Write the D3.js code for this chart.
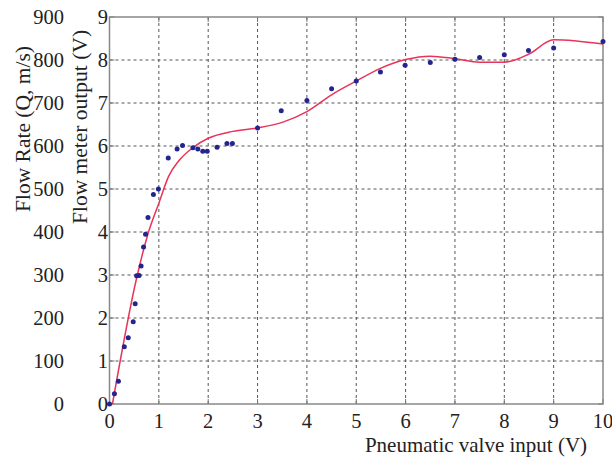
<!DOCTYPE html>
<html>
<head>
    <script src="https://d3js.org/d3.v7.min.js"></script>
    <style>
        body { margin: 0; background: white; }
        text { font-family: "Liberation Serif", "Times New Roman", serif; fill: #222; }
        .grid line { stroke: #555; stroke-dasharray: 3,3; stroke-width: 1; }
    </style>
</head>
<body>
<script>
    // measured points: pneumatic valve input (V) vs flow meter output (V)
    const inputV = [0, 0.1, 0.18, 0.3, 0.38, 0.48, 0.52, 0.55, 0.6, 0.64, 0.69, 0.73, 0.78, 0.89, 0.99,
        1.19, 1.37, 1.48, 1.69, 1.79, 1.89, 1.98, 2.18, 2.38, 2.49,
        3.0, 3.48, 4.0, 4.5, 5.0, 5.49, 5.99, 6.5, 7.0, 7.5, 8.0, 8.49, 9.0, 10];
    const outputV = [0, 0.24, 0.53, 1.33, 1.54, 1.91, 2.33, 2.98, 2.99, 3.21, 3.65, 3.95, 4.34, 4.87, 5.0,
        5.72, 5.93, 6.01, 5.96, 5.93, 5.88, 5.88, 5.97, 6.06, 6.06,
        6.42, 6.82, 7.06, 7.33, 7.51, 7.72, 7.88, 7.94, 8.02, 8.06, 8.12, 8.22, 8.28, 8.43];

    // fitted curve (red)
    const fitX = [0.06, 0.55, 0.77, 1.0, 1.2, 1.4, 1.7, 2.0, 2.5, 3.0, 3.5, 4.0, 4.5, 5.0, 5.5, 6.0, 6.5, 7.0, 7.5, 8.0, 8.5, 9.0, 10];
    const fitY = [0, 2.93, 3.92, 4.67, 5.3, 5.65, 5.97, 6.18, 6.34, 6.42, 6.55, 6.8, 7.19, 7.51, 7.81, 8.01, 8.09, 8.03, 7.95, 7.95, 8.14, 8.47, 8.37];

    const xTicks = d3.range(0, 11);
    const yTicks = d3.range(0, 10);
    const flowTicks = d3.range(0, 1000, 100);

    const width = 612, height = 457;
    const plotL = 109.5, plotR = 603, plotT = 17, plotB = 404;
    const fs = 20.5;

    const svg = d3.select('body').append('svg')
        .attr('width', width)
        .attr('height', height);

    const x = d3.scaleLinear().domain([0, 10]).range([plotL, plotR]);
    const y = d3.scaleLinear().domain([0, 9]).range([plotB, plotT]);
    const yFlow = d3.scaleLinear().domain([0, 900]).range([plotB, plotT]);

    // grid
    const grid = svg.append('g').attr('class', 'grid');
    grid.selectAll('line.v').data(xTicks.slice(1, -1)).enter().append('line')
        .attr('x1', d => x(d)).attr('x2', d => x(d))
        .attr('y1', plotT).attr('y2', plotB);
    grid.selectAll('line.h').data(yTicks.slice(1, -1)).enter().append('line')
        .attr('x1', plotL).attr('x2', plotR)
        .attr('y1', d => y(d)).attr('y2', d => y(d));

    // inside ticks on all sides
    const tk = svg.append('g').attr('stroke', '#777').attr('stroke-width', 1);
    xTicks.forEach(d => {
        tk.append('line').attr('x1', x(d)).attr('x2', x(d)).attr('y1', plotB).attr('y2', plotB - 5);
        tk.append('line').attr('x1', x(d)).attr('x2', x(d)).attr('y1', plotT).attr('y2', plotT + 5);
    });
    yTicks.forEach(d => {
        tk.append('line').attr('x1', plotL).attr('x2', plotL + 5).attr('y1', y(d)).attr('y2', y(d));
        tk.append('line').attr('x1', plotR).attr('x2', plotR - 5).attr('y1', y(d)).attr('y2', y(d));
    });

    // frame
    svg.append('rect')
        .attr('x', plotL).attr('y', plotT)
        .attr('width', plotR - plotL).attr('height', plotB - plotT)
        .attr('fill', 'none').attr('stroke', '#888').attr('stroke-width', 1.5);

    // tick labels
    svg.append('g').selectAll('text').data(xTicks).enter().append('text')
        .attr('x', d => x(d)).attr('y', 428)
        .attr('text-anchor', 'middle').attr('font-size', fs)
        .text(d => d);
    svg.append('g').selectAll('text').data(yTicks).enter().append('text')
        .attr('x', 108).attr('y', d => y(d) + 7)
        .attr('text-anchor', 'end').attr('font-size', fs)
        .text(d => d);
    svg.append('g').selectAll('text').data(flowTicks).enter().append('text')
        .attr('x', 64).attr('y', d => yFlow(d) + 7)
        .attr('text-anchor', 'end').attr('font-size', fs)
        .text(d => d);

    // axis titles
    svg.append('text')
        .attr('transform', 'translate(30,129) rotate(-90)')
        .attr('text-anchor', 'middle').attr('font-size', 21.5)
        .text('Flow Rate (Q, m/s)');
    svg.append('text')
        .attr('transform', 'translate(87,127) rotate(-90)')
        .attr('text-anchor', 'middle').attr('font-size', 21.5)
        .text('Flow meter output (V)');
    svg.append('text')
        .attr('x', 476).attr('y', 452)
        .attr('text-anchor', 'middle').attr('font-size', 21)
        .text('Pneumatic valve input (V)');

    // fitted line
    const line = d3.line()
        .x(i => x(fitX[i]))
        .y(i => y(fitY[i]))
        .curve(d3.curveMonotoneX);
    svg.append('path')
        .attr('d', line(d3.range(fitX.length)))
        .attr('fill', 'none')
        .attr('stroke', '#e8335a')
        .attr('stroke-width', 1.5);

    // measured points
    svg.append('g').selectAll('circle').data(d3.range(inputV.length)).enter().append('circle')
        .attr('cx', i => x(inputV[i]))
        .attr('cy', i => y(outputV[i]))
        .attr('r', 2.5)
        .attr('fill', '#24248e');
</script>
</body>
</html>
